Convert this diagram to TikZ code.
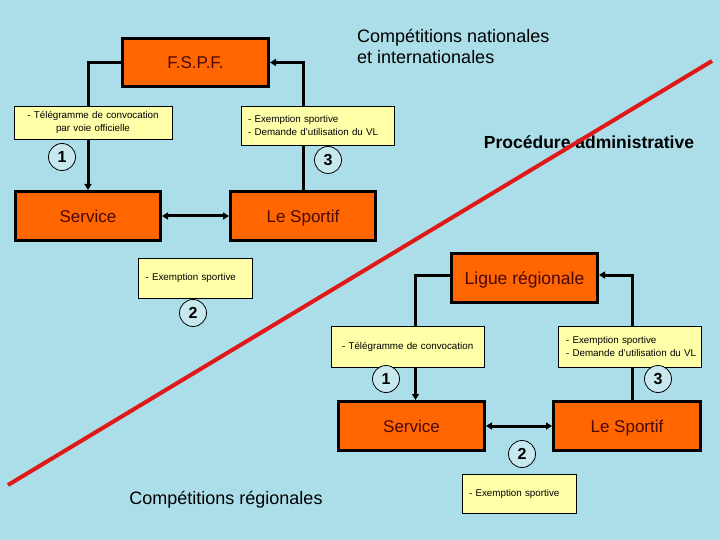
\documentclass[tikz,border=0pt]{standalone}
\usepackage{fontspec}
\setmainfont{Liberation Sans}
\usetikzlibrary{arrows.meta,calc}
\definecolor{bg}{HTML}{ABDEE8}
\definecolor{org}{HTML}{FF6600}
\definecolor{ylw}{HTML}{FFFFAA}
\definecolor{txt}{HTML}{4A0808}
\definecolor{circ}{HTML}{C8E8F0}
\definecolor{redl}{HTML}{E01818}
\begin{document}
\begin{tikzpicture}[x=1pt,y=-1pt,
 orangebox/.style={draw=black,line width=3pt,fill=org,text=txt,inner sep=0pt,text height=12.2pt,text depth=0pt,font=\fontsize{17}{20}\selectfont},
 notebox/.style={draw=black,line width=0.8pt,fill=ylw,inner ysep=0pt,font=\fontsize{9.8}{12.5}\selectfont},
 numcirc/.style={circle,draw=black,line width=0.8pt,fill=circ,minimum size=27pt,inner sep=0pt,font=\bfseries\fontsize{16}{16}\selectfont},
 link/.style={line width=3pt,-{Triangle[length=6pt,width=7pt]}},
 dlink/.style={line width=3pt,{Triangle[length=6pt,width=7pt]}-{Triangle[length=6pt,width=7pt]}},
 titletext/.style={font=\fontsize{18}{21}\selectfont,align=left,inner sep=0pt}]
\useasboundingbox (0,0) rectangle (720,540);
\fill[bg] (0,0) rectangle (720,540);

% orange boxes
\node[orangebox,minimum width=146pt,minimum height=48pt] (fspf) at (195.5,62.5) {F.S.P.F.};
\node[orangebox,minimum width=145pt,minimum height=49pt] (service) at (88,216) {Service};
\node[orangebox,minimum width=145pt,minimum height=49pt] (sportif) at (303,216) {Le Sportif};
\node[orangebox,minimum width=146pt,minimum height=49pt,font=\fontsize{17.5}{20}\selectfont,text height=12.5pt] (ligue) at (524.5,278) {Ligue régionale};
\node[orangebox,minimum width=146pt,minimum height=49pt] (serviceb) at (411.5,426) {Service};
\node[orangebox,minimum width=147pt,minimum height=49pt] (sportifb) at (627,426) {Le Sportif};

% connectors
\draw[link] (fspf.west) -| (service.north);
\draw[link] (sportif.north) |- (fspf.east);
\draw[dlink] (service.east) -- (sportif.west);
\draw[link] ([yshift=3pt]ligue.west) -| ([xshift=4pt]serviceb.north);
\draw[link] ([xshift=5pt]sportifb.north) |- ([yshift=3pt]ligue.east);
\draw[dlink] (serviceb.east) -- (sportifb.west);

% notes
\node[notebox,minimum height=33pt,text width=150pt,inner xsep=4pt,align=center] (n1) at (93,122.5)
  {- Télégramme de convocation\\par voie officielle};
\node[notebox,minimum height=39pt,text width=141pt,inner xsep=6pt,align=left] (n3) at (317.5,125.5)
  {\hspace*{1pt}- Exemption sportive\\\hspace*{1pt}- Demande d'utilisation du VL};
\node[notebox,minimum height=40pt,text width=99pt,inner xsep=7.5pt,align=left] (n2) at (195,278)
  {- Exemption sportive};
\node[notebox,minimum height=41pt,text width=141pt,inner xsep=6pt,align=left] (n1b) at (407.5,346.5)
  {\hspace*{5pt}- Télégramme de convocation};
\node[notebox,minimum height=41pt,text width=135pt,inner xsep=4pt,align=left] (n3b) at (629.5,346.5)
  {\hspace*{4pt}- Exemption sportive\\\hspace*{4pt}- Demande d'utilisation du VL};
\node[notebox,minimum height=39pt,text width=100pt,inner xsep=7pt,align=left] (n2b) at (519,493.5)
  {- Exemption sportive};

% number circles
\node[numcirc] (c1) at (62,157) {1};
\node[numcirc] (c3) at (328,160) {3};
\node[numcirc] (c2) at (193,313) {2};
\node[numcirc] (c1b) at (386,379) {1};
\node[numcirc] (c3b) at (658,379) {3};
\node[numcirc] (c2b) at (522,454) {2};

% titles
\node[titletext,anchor=north west] (nat) at (357,29) {Compétitions nationales\\et internationales};
\node[font=\bfseries\fontsize{17.5}{20}\selectfont,inner sep=0pt] (proc) at (589,142) {Procédure administrative};
\node[titletext] (reg) at (226,500) {Compétitions régionales};

% red dividing line
\coordinate (r1) at (712,61);
\coordinate (r2) at (8,485);
\draw[redl,line width=4pt] (r1) -- (r2);
\end{tikzpicture}
\end{document}
